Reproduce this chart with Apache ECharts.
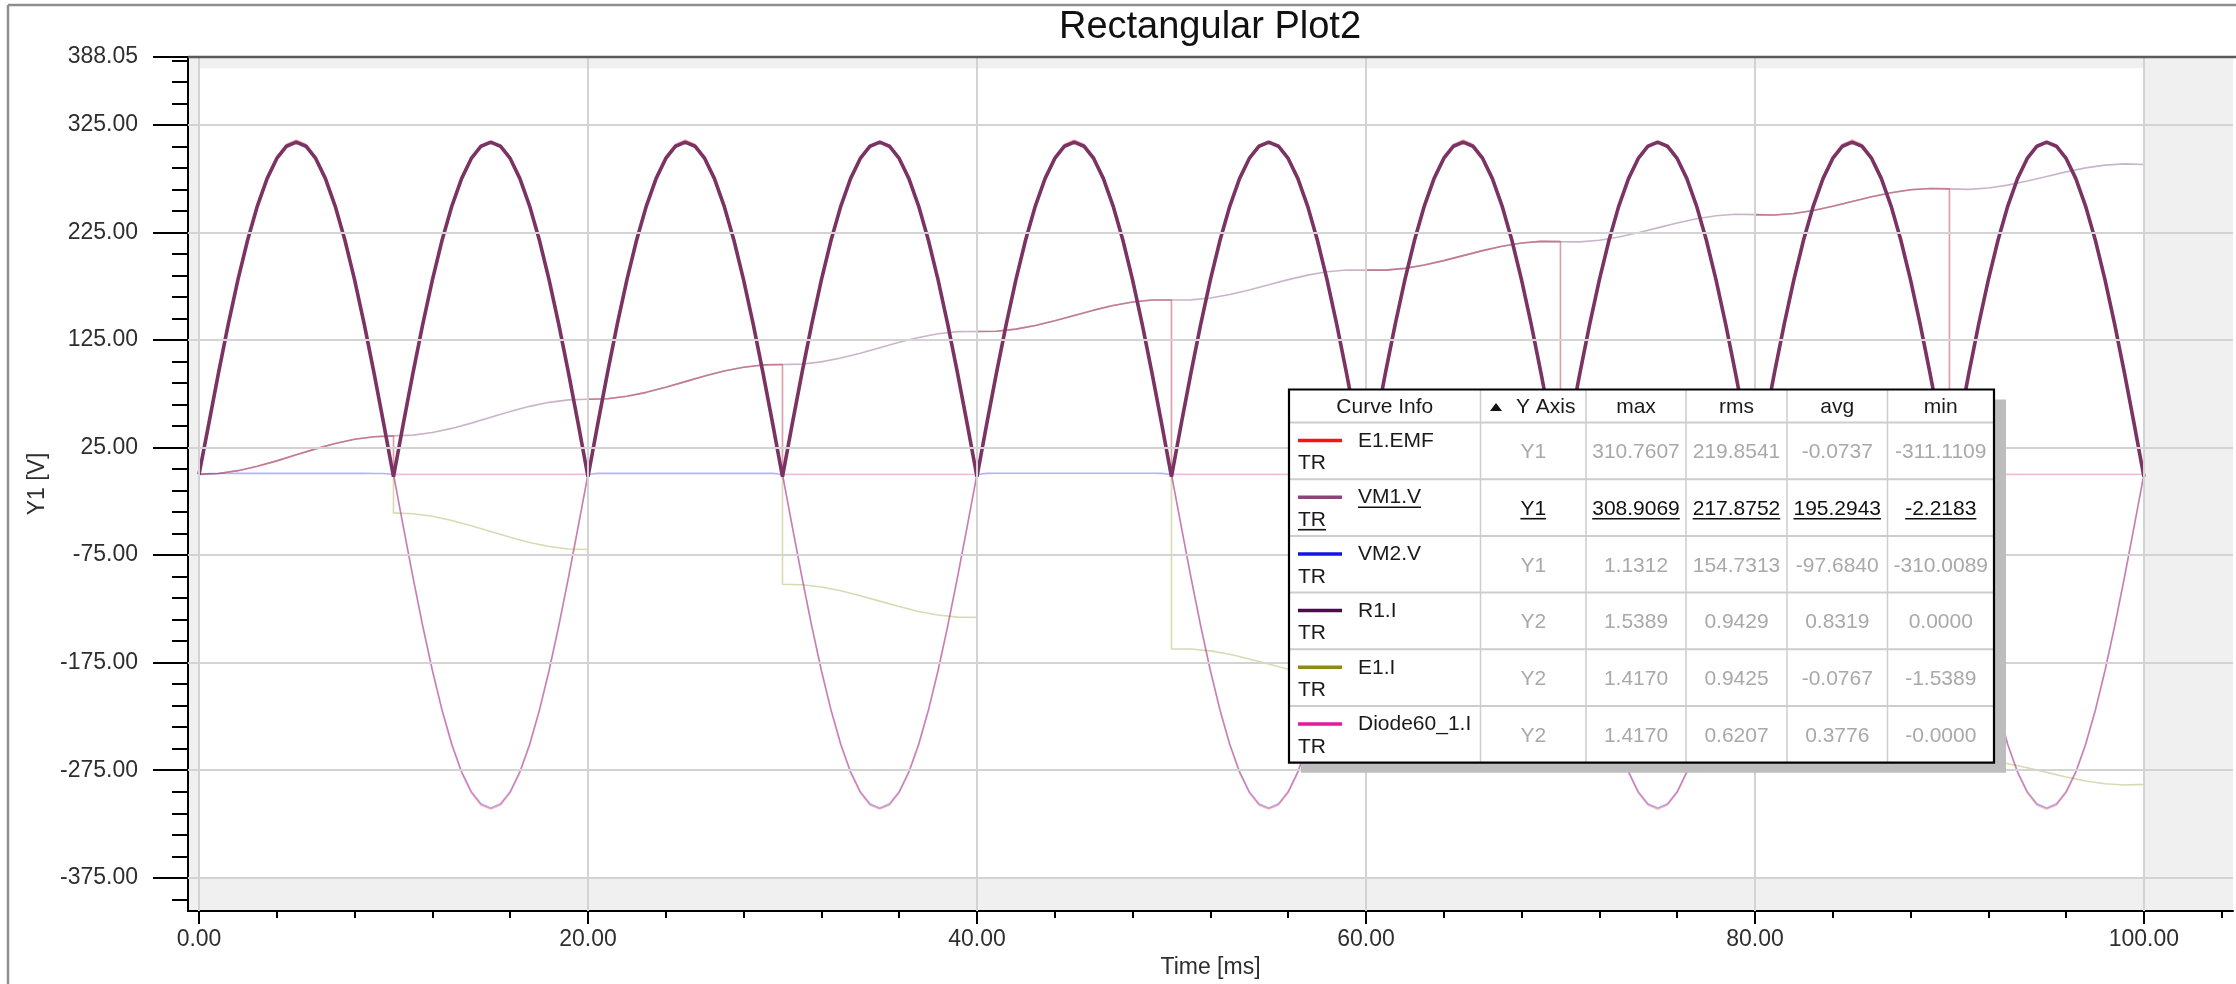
<!DOCTYPE html>
<html>
<head>
<meta charset="utf-8">
<script src="https://cdn.jsdelivr.net/npm/echarts@6.0.0/dist/echarts.min.js"></script>
<style>
html,body{margin:0;padding:0;background:#ffffff;}
#chart{width:2236px;height:984px;}
</style>
</head>
<body>
<div id="chart"></div>
<script>
// ---------------- DATA ----------------
const titleText = 'Rectangular Plot2';
const xAxisName = 'Time [ms]';
const yAxisName = 'Y1 [V]';

// tick labels / tick positions
const xMajorTicks = [0, 20, 40, 60, 80, 100];
const xMinorTicks = [4, 8, 12, 16, 24, 28, 32, 36, 44, 48, 52, 56, 64, 68, 72, 76, 84, 88, 92, 96, 104];
const yMajorTicks = [388.05, 325, 225, 125, 25, -75, -175, -275, -375];
const yGridValues = [325, 225, 125, 25, -75, -175, -275, -375];
const yMinorTicks = [385, 365, 345, 305, 285, 265, 245, 205, 185, 165, 145, 105, 85, 65, 45, 5, -15, -35, -55,
  -95, -115, -135, -155, -195, -215, -235, -255, -295, -315, -335, -355, -395];

// voltages, sampled every 0.5 ms from 0 to 100 ms  [V]
const voltageStepMs = 0.5;
const e1Emf = [
  0, 48.6, 96.0, 141.1, 182.7, 219.8, 251.4, 276.9, 295.6, 307.0, 310.8, 307.0, 295.6, 276.9, 251.4, 219.8, 182.7, 141.1, 96.0, 48.6,
  0, -48.7, -96.1, -141.2, -182.9, -220.0, -251.7, -277.2, -295.9, -307.3, -311.1, -307.3, -295.9, -277.2, -251.7, -220.0, -182.9, -141.2, -96.1, -48.7,
  0, 48.6, 96.0, 141.1, 182.7, 219.8, 251.4, 276.9, 295.6, 307.0, 310.8, 307.0, 295.6, 276.9, 251.4, 219.8, 182.7, 141.1, 96.0, 48.6,
  0, -48.7, -96.1, -141.2, -182.9, -220.0, -251.7, -277.2, -295.9, -307.3, -311.1, -307.3, -295.9, -277.2, -251.7, -220.0, -182.9, -141.2, -96.1, -48.7,
  0, 48.6, 96.0, 141.1, 182.7, 219.8, 251.4, 276.9, 295.6, 307.0, 310.8, 307.0, 295.6, 276.9, 251.4, 219.8, 182.7, 141.1, 96.0, 48.6,
  0, -48.7, -96.1, -141.2, -182.9, -220.0, -251.7, -277.2, -295.9, -307.3, -311.1, -307.3, -295.9, -277.2, -251.7, -220.0, -182.9, -141.2, -96.1, -48.7,
  0, 48.6, 96.0, 141.1, 182.7, 219.8, 251.4, 276.9, 295.6, 307.0, 310.8, 307.0, 295.6, 276.9, 251.4, 219.8, 182.7, 141.1, 96.0, 48.6,
  0, -48.7, -96.1, -141.2, -182.9, -220.0, -251.7, -277.2, -295.9, -307.3, -311.1, -307.3, -295.9, -277.2, -251.7, -220.0, -182.9, -141.2, -96.1, -48.7,
  0, 48.6, 96.0, 141.1, 182.7, 219.8, 251.4, 276.9, 295.6, 307.0, 310.8, 307.0, 295.6, 276.9, 251.4, 219.8, 182.7, 141.1, 96.0, 48.6,
  0, -48.7, -96.1, -141.2, -182.9, -220.0, -251.7, -277.2, -295.9, -307.3, -311.1, -307.3, -295.9, -277.2, -251.7, -220.0, -182.9, -141.2, -96.1, -48.7,
  0
];
const vm1V = [
  0, 46.7, 94.1, 139.2, 180.8, 217.9, 249.5, 275.0, 293.7, 305.1, 308.9, 305.1, 293.7, 275.0, 249.5, 217.9, 180.8, 139.2, 94.1, 46.7,
  -2.2, 46.7, 94.1, 139.2, 180.8, 217.9, 249.5, 275.0, 293.7, 305.1, 308.9, 305.1, 293.7, 275.0, 249.5, 217.9, 180.8, 139.2, 94.1, 46.7,
  -2.2, 46.7, 94.1, 139.2, 180.8, 217.9, 249.5, 275.0, 293.7, 305.1, 308.9, 305.1, 293.7, 275.0, 249.5, 217.9, 180.8, 139.2, 94.1, 46.7,
  -2.2, 46.7, 94.1, 139.2, 180.8, 217.9, 249.5, 275.0, 293.7, 305.1, 308.9, 305.1, 293.7, 275.0, 249.5, 217.9, 180.8, 139.2, 94.1, 46.7,
  -2.2, 46.7, 94.1, 139.2, 180.8, 217.9, 249.5, 275.0, 293.7, 305.1, 308.9, 305.1, 293.7, 275.0, 249.5, 217.9, 180.8, 139.2, 94.1, 46.7,
  -2.2, 46.7, 94.1, 139.2, 180.8, 217.9, 249.5, 275.0, 293.7, 305.1, 308.9, 305.1, 293.7, 275.0, 249.5, 217.9, 180.8, 139.2, 94.1, 46.7,
  -2.2, 46.7, 94.1, 139.2, 180.8, 217.9, 249.5, 275.0, 293.7, 305.1, 308.9, 305.1, 293.7, 275.0, 249.5, 217.9, 180.8, 139.2, 94.1, 46.7,
  -2.2, 46.7, 94.1, 139.2, 180.8, 217.9, 249.5, 275.0, 293.7, 305.1, 308.9, 305.1, 293.7, 275.0, 249.5, 217.9, 180.8, 139.2, 94.1, 46.7,
  -2.2, 46.7, 94.1, 139.2, 180.8, 217.9, 249.5, 275.0, 293.7, 305.1, 308.9, 305.1, 293.7, 275.0, 249.5, 217.9, 180.8, 139.2, 94.1, 46.7,
  -2.2, 46.7, 94.1, 139.2, 180.8, 217.9, 249.5, 275.0, 293.7, 305.1, 308.9, 305.1, 293.7, 275.0, 249.5, 217.9, 180.8, 139.2, 94.1, 46.7,
  -2.2
];
const vm2V = [
  0, 0.8, 0.9, 0.9, 1.0, 1.0, 1.0, 1.0, 1.0, 1.0, 1.0, 1.0, 1.0, 1.0, 1.0, 1.0, 1.0, 1.0, 0.9, 0.9,
  0, -47.6, -95.0, -140.1, -181.8, -218.9, -250.6, -276.1, -294.8, -306.2, -310.0, -306.2, -294.8, -276.1, -250.6, -218.9, -181.8, -140.1, -95.0, -47.6,
  0, 1.0, 1.0, 1.0, 1.0, 1.0, 1.0, 1.0, 1.0, 1.0, 1.0, 1.0, 1.0, 1.0, 1.0, 1.0, 1.0, 1.0, 1.0, 1.0,
  0, -47.6, -95.0, -140.1, -181.8, -218.9, -250.6, -276.1, -294.8, -306.2, -310.0, -306.2, -294.8, -276.1, -250.6, -218.9, -181.8, -140.1, -95.0, -47.6,
  0, 1.0, 1.1, 1.1, 1.1, 1.1, 1.1, 1.1, 1.1, 1.1, 1.1, 1.1, 1.1, 1.1, 1.1, 1.1, 1.1, 1.1, 1.1, 1.0,
  0, -47.6, -95.0, -140.1, -181.8, -218.9, -250.6, -276.1, -294.8, -306.2, -310.0, -306.2, -294.8, -276.1, -250.6, -218.9, -181.8, -140.1, -95.0, -47.6,
  0, 1.1, 1.1, 1.1, 1.1, 1.1, 1.1, 1.1, 1.1, 1.1, 1.1, 1.1, 1.1, 1.1, 1.1, 1.1, 1.1, 1.1, 1.1, 1.1,
  0, -47.6, -95.0, -140.1, -181.8, -218.9, -250.6, -276.1, -294.8, -306.2, -310.0, -306.2, -294.8, -276.1, -250.6, -218.9, -181.8, -140.1, -95.0, -47.6,
  0, 1.1, 1.1, 1.1, 1.1, 1.1, 1.1, 1.1, 1.1, 1.1, 1.1, 1.1, 1.1, 1.1, 1.1, 1.1, 1.1, 1.1, 1.1, 1.1,
  0, -47.6, -95.0, -140.1, -181.8, -218.9, -250.6, -276.1, -294.8, -306.2, -310.0, -306.2, -294.8, -276.1, -250.6, -218.9, -181.8, -140.1, -95.0, -47.6,
  0
];

// currents (Y2 axis), sampled every 1 ms  [A]
const currentStepMs = 1;
const r1I = [
  0, 0.0048, 0.0186, 0.0401, 0.0671, 0.0970, 0.1266, 0.1532, 0.1740, 0.1870,
  0.1908, 0.1946, 0.2075, 0.2280, 0.2541, 0.2830, 0.3117, 0.3373, 0.3572, 0.3693,
  0.3722, 0.3751, 0.3870, 0.4067, 0.4318, 0.4598, 0.4877, 0.5124, 0.5314, 0.5426,
  0.5446, 0.5466, 0.5577, 0.5765, 0.6008, 0.6280, 0.6550, 0.6789, 0.6970, 0.7074,
  0.7085, 0.7097, 0.7200, 0.7380, 0.7615, 0.7878, 0.8140, 0.8371, 0.8545, 0.8640,
  0.8644, 0.8648, 0.8743, 0.8915, 0.9143, 0.9398, 0.9652, 0.9876, 1.0042, 1.0130,
  1.0126, 1.0123, 1.0211, 1.0375, 1.0595, 1.0843, 1.1090, 1.1306, 1.1465, 1.1546,
  1.1535, 1.1525, 1.1605, 1.1763, 1.1976, 1.2217, 1.2457, 1.2666, 1.2818, 1.2892,
  1.2875, 1.2858, 1.2931, 1.3082, 1.3289, 1.3523, 1.3757, 1.3959, 1.4105, 1.4172,
  1.4148, 1.4125, 1.4192, 1.4337, 1.4537, 1.4765, 1.4992, 1.5189, 1.5328, 1.5389,
  1.5359
];
// [time ms, current A]  (jumps at every half period)
const e1I = [
  [0,0],[1,0.0048],[2,0.0186],[3,0.0401],[4,0.0671],[5,0.0970],[6,0.1266],[7,0.1532],[8,0.1740],[9,0.1870],[10,0.1908],
  [10,-0.1908],[11,-0.1946],[12,-0.2075],[13,-0.2280],[14,-0.2541],[15,-0.2830],[16,-0.3117],[17,-0.3373],[18,-0.3572],[19,-0.3693],[20,-0.3722],
  [20,0.3722],[21,0.3751],[22,0.3870],[23,0.4067],[24,0.4318],[25,0.4598],[26,0.4877],[27,0.5124],[28,0.5314],[29,0.5426],[30,0.5446],
  [30,-0.5446],[31,-0.5466],[32,-0.5577],[33,-0.5765],[34,-0.6008],[35,-0.6280],[36,-0.6550],[37,-0.6789],[38,-0.6970],[39,-0.7074],[40,-0.7085],
  [40,0.7085],[41,0.7097],[42,0.7200],[43,0.7380],[44,0.7615],[45,0.7878],[46,0.8140],[47,0.8371],[48,0.8545],[49,0.8640],[50,0.8644],
  [50,-0.8644],[51,-0.8648],[52,-0.8743],[53,-0.8915],[54,-0.9143],[55,-0.9398],[56,-0.9652],[57,-0.9876],[58,-1.0042],[59,-1.0130],[60,-1.0126],
  [60,1.0126],[61,1.0123],[62,1.0211],[63,1.0375],[64,1.0595],[65,1.0843],[66,1.1090],[67,1.1306],[68,1.1465],[69,1.1546],[70,1.1535],
  [70,-1.1535],[71,-1.1525],[72,-1.1605],[73,-1.1763],[74,-1.1976],[75,-1.2217],[76,-1.2457],[77,-1.2666],[78,-1.2818],[79,-1.2892],[80,-1.2875],
  [80,1.2875],[81,1.2858],[82,1.2931],[83,1.3082],[84,1.3289],[85,1.3523],[86,1.3757],[87,1.3959],[88,1.4105],[89,1.4172],[90,1.4148],
  [90,-1.4148],[91,-1.4125],[92,-1.4192],[93,-1.4337],[94,-1.4537],[95,-1.4765],[96,-1.4992],[97,-1.5189],[98,-1.5328],[99,-1.5389],[100,-1.5359],
  [100,0.762]
];
const diode60I = [
  [0,0],[1,0.0048],[2,0.0186],[3,0.0401],[4,0.0671],[5,0.0970],[6,0.1266],[7,0.1532],[8,0.1740],[9,0.1870],[10,0.1908],
  [10,0],[20,0],
  [20,0.3722],[21,0.3751],[22,0.3870],[23,0.4067],[24,0.4318],[25,0.4598],[26,0.4877],[27,0.5124],[28,0.5314],[29,0.5426],[30,0.5446],
  [30,0],[40,0],
  [40,0.7085],[41,0.7097],[42,0.7200],[43,0.7380],[44,0.7615],[45,0.7878],[46,0.8140],[47,0.8371],[48,0.8545],[49,0.8640],[50,0.8644],
  [50,0],[60,0],
  [60,1.0126],[61,1.0123],[62,1.0211],[63,1.0375],[64,1.0595],[65,1.0843],[66,1.1090],[67,1.1306],[68,1.1465],[69,1.1546],[70,1.1535],
  [70,0],[80,0],
  [80,1.2875],[81,1.2858],[82,1.2931],[83,1.3082],[84,1.3289],[85,1.3523],[86,1.3757],[87,1.3959],[88,1.4105],[89,1.4172],[90,1.4148],
  [90,0],[100,0],
  [100,0.762]
];

// curve-info table
const curveNames = ['E1.EMF', 'VM1.V', 'VM2.V', 'R1.I', 'E1.I', 'Diode60_1.I'];
const curveYAxis = ['Y1', 'Y1', 'Y1', 'Y2', 'Y2', 'Y2'];
const curveMax = ['310.7607', '308.9069', '1.1312', '1.5389', '1.4170', '1.4170'];
const curveRms = ['219.8541', '217.8752', '154.7313', '0.9429', '0.9425', '0.6207'];
const curveAvg = ['-0.0737', '195.2943', '-97.6840', '0.8319', '-0.0767', '0.3776'];
const curveMin = ['-311.1109', '-2.2183', '-310.0089', '0.0000', '-1.5389', '-0.0000'];
const tableHeaders = ['Curve Info', 'Y Axis', 'max', 'rms', 'avg', 'min'];
const selectedCurve = 1;

// ---------------- STYLE ----------------
const FONT = '"Liberation Sans", Arial, Helvetica, sans-serif';
const curveColors = ['#ff1010', '#8a4676', '#1414e6', '#4b0c4b', '#8c8c14', '#e6199a'];
const plotColors = ['#ff0000', '#7b3363', '#0000ff', '#4b0a4b', '#808000', '#e6199a'];
const fadedOpacity = 0.3;

const X_MIN = -0.566, X_MAX = 104.58;
const Y1_MIN = -405.95, Y1_MAX = 388.05;
const Y2_MIN = -2.164, Y2_MAX = 2.0685;

const voltagePairs = arr => arr.map((v, i) => [i * voltageStepMs, v]);
const currentPairs = arr => arr.map((v, i) => [i * currentStepMs, v]);

function lineSeries(name, data, colorIdx, yIdx, opts) {
  return Object.assign({
    name: name, type: 'line', data: data, xAxisIndex: 0, yAxisIndex: yIdx,
    showSymbol: false, symbol: 'none', silent: true, animation: false, z: 3,
    lineStyle: { color: plotColors[colorIdx], width: 1.6, opacity: fadedOpacity },
    itemStyle: { color: plotColors[colorIdx] }
  }, opts || {});
}

// ---------------- TABLE (graphic) ----------------
const colX = [1289, 1480.5, 1586, 1686, 1787, 1887.5, 1994];
const tableTop = 389.5, headerH = 33, rowH = 56.7;
const tableBottom = tableTop + headerH + rowH * curveNames.length;
const tFont = '21px ' + FONT;
const measureCtx = document.createElement('canvas').getContext('2d');
measureCtx.font = tFont;
const textW = s => measureCtx.measureText(s).width;

const g = [];
// outer frame of the window
g.push({ type: 'line', z: 50, silent: true, shape: { x1: 8, y1: 5, x2: 2236, y2: 5 }, style: { stroke: '#8e8e8e', lineWidth: 2.5 } });
g.push({ type: 'line', z: 50, silent: true, shape: { x1: 8, y1: 5, x2: 8, y2: 984 }, style: { stroke: '#8e8e8e', lineWidth: 2.5 } });
// top border of the plot
g.push({ type: 'line', z: 50, silent: true, shape: { x1: 188, y1: 57, x2: 2236, y2: 57 }, style: { stroke: '#5a5a5a', lineWidth: 2.5 } });
// title
g.push({ type: 'text', z: 50, silent: true, x: 1210, y: 28,
  style: { text: titleText, font: '38px ' + FONT, fill: '#111', align: 'center', verticalAlign: 'middle' } });

// shadow + body
g.push({ type: 'rect', z: 100, silent: true, shape: { x: colX[0] + 12, y: tableTop + 10, width: colX[6] - colX[0], height: tableBottom - tableTop }, style: { fill: '#bdbdbd' } });
g.push({ type: 'rect', z: 101, silent: true, shape: { x: colX[0], y: tableTop, width: colX[6] - colX[0], height: tableBottom - tableTop }, style: { fill: '#ffffff' } });
for (let c = 1; c < colX.length - 1; c++) {
  g.push({ type: 'line', z: 102, silent: true, shape: { x1: colX[c], y1: tableTop, x2: colX[c], y2: tableBottom }, style: { stroke: '#cdcdcd', lineWidth: 1.5 } });
}
for (let r = 0; r < curveNames.length; r++) {
  const yy = tableTop + headerH + rowH * r;
  g.push({ type: 'line', z: 102, silent: true, shape: { x1: colX[0], y1: yy, x2: colX[6], y2: yy }, style: { stroke: '#cdcdcd', lineWidth: 2 } });
}
g.push({ type: 'rect', z: 103, silent: true, shape: { x: colX[0], y: tableTop, width: colX[6] - colX[0], height: tableBottom - tableTop }, style: { fill: 'none', stroke: '#000', lineWidth: 2.2 } });

// header
const headY = tableTop + headerH / 2 + 1;
tableHeaders.forEach((h, c) => {
  if (c === 1) {
    g.push({ type: 'polygon', z: 104, silent: true, shape: { points: [[1490, 411], [1502, 411], [1496, 403]] }, style: { fill: '#111' } });
    g.push({ type: 'text', z: 104, silent: true, x: 1516, y: headY, style: { text: h, font: tFont, fill: '#1a1a1a', align: 'left', verticalAlign: 'middle' } });
  } else {
    g.push({ type: 'text', z: 104, silent: true, x: (colX[c] + colX[c + 1]) / 2, y: headY, style: { text: h, font: tFont, fill: '#1a1a1a', align: 'center', verticalAlign: 'middle' } });
  }
});

function underline(x, y, w) {
  g.push({ type: 'line', z: 104, silent: true, shape: { x1: x, y1: y, x2: x + w, y2: y }, style: { stroke: '#111', lineWidth: 1.6 } });
}
curveNames.forEach((name, r) => {
  const top = tableTop + headerH + rowH * r;
  const sel = r === selectedCurve;
  const valColor = sel ? '#111' : '#a9a9a9';
  g.push({ type: 'line', z: 104, silent: true, shape: { x1: 1298, y1: top + 18, x2: 1342, y2: top + 18 }, style: { stroke: curveColors[r], lineWidth: 3.5 } });
  g.push({ type: 'text', z: 104, silent: true, x: 1358, y: top + 18.5, style: { text: name, font: tFont, fill: '#1a1a1a', align: 'left', verticalAlign: 'middle' } });
  g.push({ type: 'text', z: 104, silent: true, x: 1298, y: top + 41, style: { text: 'TR', font: tFont, fill: '#1a1a1a', align: 'left', verticalAlign: 'middle' } });
  if (sel) { underline(1358, top + 28, textW(name)); underline(1298, top + 50.5, textW('TR')); }
  const vals = [curveYAxis[r], curveMax[r], curveRms[r], curveAvg[r], curveMin[r]];
  vals.forEach((v, k) => {
    const cx = (colX[k + 1] + colX[k + 2]) / 2;
    g.push({ type: 'text', z: 104, silent: true, x: cx, y: top + 30, style: { text: v, font: tFont, fill: valColor, align: 'center', verticalAlign: 'middle' } });
    if (sel) { const w = textW(v); underline(cx - w / 2, top + 39.5, w); }
  });
});

// ---------------- CHART ----------------
const axisText = { fontSize: 23, color: '#2e2e2e', fontFamily: FONT };
const fmt = v => Number(v).toFixed(2);

const option = {
  animation: false,
  backgroundColor: '#ffffff',
  grid: { left: 188, right: 3, top: 57, bottom: 68, show: true, backgroundColor: '#f0f0f0', borderWidth: 0, containLabel: false },
  xAxis: [
    {
      type: 'value', min: X_MIN, max: X_MAX, position: 'bottom',
      axisLine: { show: true, onZero: false, lineStyle: { color: '#000', width: 2 } },
      axisTick: { show: true, customValues: xMajorTicks, length: 13, lineStyle: { color: '#000', width: 2 } },
      axisLabel: Object.assign({ customValues: xMajorTicks, formatter: fmt, margin: 17 }, axisText),
      splitLine: { show: false },
      name: xAxisName, nameLocation: 'middle', nameGap: 40, nameTextStyle: axisText
    },
    {
      type: 'value', min: X_MIN, max: X_MAX, position: 'bottom', offset: 0,
      axisLine: { show: false, onZero: false },
      axisTick: { show: true, customValues: xMinorTicks, length: 7, lineStyle: { color: '#000', width: 2 } },
      axisLabel: { show: false }, splitLine: { show: false }
    }
  ],
  yAxis: [
    {
      type: 'value', min: Y1_MIN, max: Y1_MAX, position: 'left',
      axisLine: { show: true, onZero: false, lineStyle: { color: '#000', width: 2 } },
      axisTick: { show: true, customValues: yMajorTicks, length: 35, lineStyle: { color: '#000', width: 2 } },
      axisLabel: Object.assign({ customValues: yMajorTicks, formatter: fmt, margin: 50 }, axisText),
      splitLine: { show: false },
      name: yAxisName, nameLocation: 'middle', nameGap: 112, nameRotate: 90, nameTextStyle: axisText
    },
    {
      type: 'value', min: Y1_MIN, max: Y1_MAX, position: 'left', offset: 0,
      axisLine: { show: false, onZero: false },
      axisTick: { show: true, customValues: yMinorTicks, length: 16, lineStyle: { color: '#000', width: 2 } },
      axisLabel: { show: false }, splitLine: { show: false }
    },
    {
      type: 'value', min: Y2_MIN, max: Y2_MAX, show: false, position: 'right',
      axisLine: { show: false, onZero: false }, splitLine: { show: false }
    }
  ],
  graphic: { elements: g },
  series: [
    {
      name: 'plotArea', type: 'line', data: [], xAxisIndex: 0, yAxisIndex: 0, z: 1, silent: true, animation: false,
      markArea: { silent: true, itemStyle: { color: '#ffffff', borderWidth: 0 }, label: { show: false },
        data: [[{ xAxis: 0, yAxis: -375 }, { xAxis: 100, yAxis: 377.7 }]] }
    },
    {
      name: 'gridLines', type: 'line', data: [], xAxisIndex: 0, yAxisIndex: 0, z: 2, silent: true, animation: false,
      markLine: { silent: true, symbol: ['none', 'none'], label: { show: false }, animation: false,
        lineStyle: { color: '#d3d3d3', width: 2, type: 'solid' },
        emphasis: { disabled: true },
        data: yGridValues.map(v => ({ yAxis: v })).concat(xMajorTicks.map(v => ({ xAxis: v }))) }
    },
    lineSeries('VM2.V', voltagePairs(vm2V), 2, 0),
    lineSeries('E1.EMF', voltagePairs(e1Emf), 0, 0),
    lineSeries('R1.I', currentPairs(r1I), 3, 2),
    lineSeries('E1.I', e1I, 4, 2),
    lineSeries('Diode60_1.I', diode60I, 5, 2),
    lineSeries('VM1.V', voltagePairs(vm1V), 1, 0, {
      z: 4, lineStyle: { color: plotColors[1], width: 3.6, opacity: 1 }
    })
  ]
};

const chart = echarts.init(document.getElementById('chart'), null, { renderer: 'canvas', width: 2236, height: 984 });
chart.setOption(option);
</script>
</body>
</html>
